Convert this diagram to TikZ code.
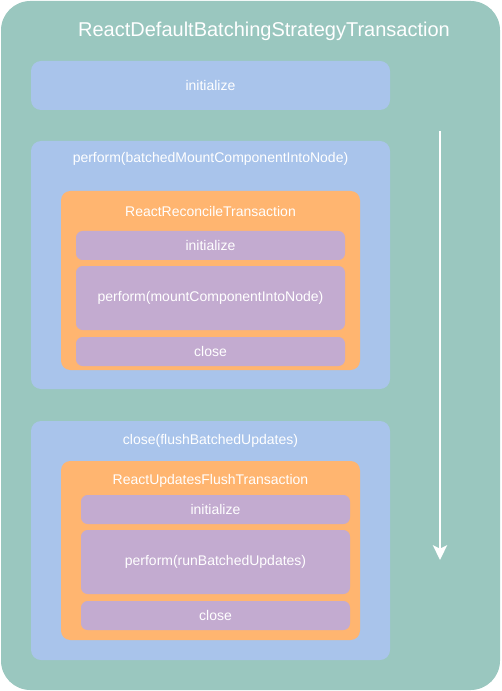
\documentclass[tikz,border=0pt]{standalone}
\usepackage{fontspec}
\setmainfont{Liberation Sans}
\usetikzlibrary{arrows.meta}
\definecolor{txgreen}{HTML}{9AC7BF}
\definecolor{txblue}{HTML}{A9C4EB}
\definecolor{txorange}{HTML}{FFB570}
\definecolor{txpurple}{HTML}{C3ABD0}
\begin{document}
\begin{tikzpicture}[
    x=0.75pt, y=-0.75pt,
    box/.style={rectangle, inner sep=0pt, outer sep=0pt},
    outerbox/.style={box, fill=txgreen, rounded corners=22pt, minimum width=374.25pt, minimum height=516.75pt},
    phase/.style={box, fill=txblue, rounded corners=7.5pt, minimum width=269.25pt},
    txbox/.style={box, fill=txorange, rounded corners=7pt, minimum width=224.25pt, minimum height=134.25pt},
    wrapper/.style={box, fill=txpurple, rounded corners=5pt, minimum width=201.75pt},
    lbl/.style={text=white, font=\fontsize{10.5}{12}\selectfont},
    flow/.style={-{Stealth[length=11pt, width=10.5pt, inset=2.5pt]}, draw=white, line width=2.2pt}
]
    \useasboundingbox (0,0) rectangle (501,691);

    % Outer transaction
    \node[outerbox] (batching) at (250.5,345.5) {};
    \node[text=white, font=\fontsize{15}{17}\selectfont] (batchingT) at (264,31) {ReactDefaultBatchingStrategyTransaction};

    % initialize
    \node[phase, minimum height=36.75pt] (init) at (210.5,85.5) {};
    \node[lbl] (initT) at (init) {initialize};

    % perform
    \node[phase, minimum height=186pt] (perf) at (210.5,265) {};
    \node[lbl] (perfT) at (210.5,159) {perform(batchedMountComponentIntoNode)};
    \node[txbox] (reconcile) at (210.5,280.5) {};
    \node[lbl] (reconcileT) at (210.5,211) {ReactReconcileTransaction};
    \node[wrapper, minimum height=21.75pt] (rInit) at (210.5,245.5) {};
    \node[lbl] at (rInit) {initialize};
    \node[wrapper, minimum height=48pt] (rPerf) at (210.5,298) {};
    \node[lbl] at (rPerf) {perform(mountComponentIntoNode)};
    \node[wrapper, minimum height=21.75pt] (rClose) at (210.5,351.5) {};
    \node[lbl] at (rClose) {close};

    % close
    \node[phase, minimum height=179.25pt] (close) at (210.5,540.5) {};
    \node[lbl] (closeT) at (210.5,441) {close(flushBatchedUpdates)};
    \node[txbox] (flush) at (210.5,550.5) {};
    \node[lbl] (flushT) at (210.5,481) {ReactUpdatesFlushTransaction};
    \node[wrapper, minimum height=21.75pt] (fInit) at (215.5,509.5) {};
    \node[lbl] at (fInit) {initialize};
    \node[wrapper, minimum height=48pt] (fPerf) at (215.5,562) {};
    \node[lbl] at (fPerf) {perform(runBatchedUpdates)};
    \node[wrapper, minimum height=21.75pt] (fClose) at (215.5,615.5) {};
    \node[lbl] at (fClose) {close};

    % Order of execution
    \coordinate (flowTop) at (440,131);
    \coordinate (flowEnd) at (440,560);
    \draw[flow] (flowTop) -- (flowEnd);
\end{tikzpicture}
\end{document}
